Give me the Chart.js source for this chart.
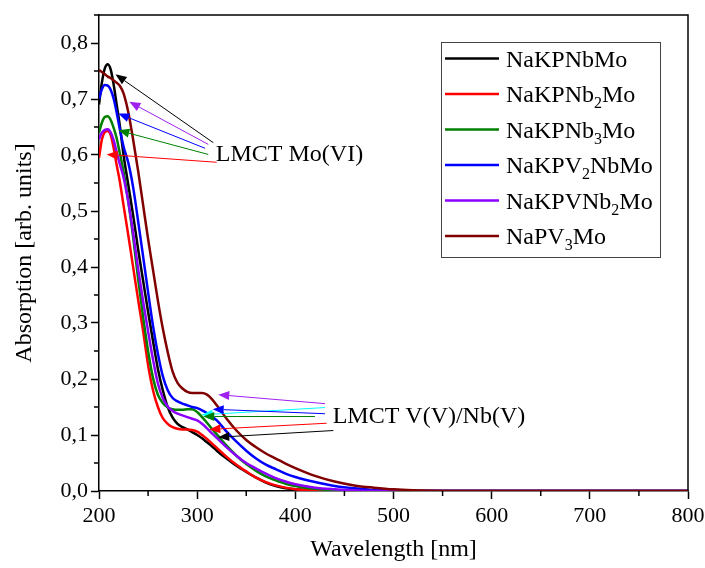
<!DOCTYPE html>
<html>
<head>
<meta charset="utf-8">
<title>UV-Vis absorption spectra</title>
<script src="https://cdn.jsdelivr.net/npm/chart.js@4.4.1/dist/chart.umd.min.js"></script>
<style>
  html, body { margin: 0; padding: 0; background: #fff; }
  canvas { display: block; }
</style>
</head>
<body>
<canvas id="chart" width="705" height="568"></canvas>
<script>
// Wavelength grid (nm) shared by all spectra
const wavelength = [200, 203, 206, 209, 212, 215, 218, 221, 225, 230, 235, 240, 245, 250, 255, 260, 265, 270, 275, 280,
  285, 290, 295, 300, 305, 310, 315, 320, 330, 340, 350, 360, 370, 380, 390, 400, 420, 440, 460, 480,
  500, 550, 600, 700, 800];

// Absorption (arb. units) of each compound
const nakpnbmo = [0.690, 0.730, 0.755, 0.762, 0.752, 0.725, 0.690, 0.655, 0.600, 0.545, 0.490, 0.430, 0.375, 0.320, 0.268, 0.218, 0.180, 0.150, 0.131, 0.120,
  0.114, 0.110, 0.105, 0.100, 0.094, 0.087, 0.080, 0.072, 0.058, 0.045, 0.034, 0.024, 0.015, 0.009, 0.005, 0.003, 0.001, 0, 0, 0,
  0, 0, 0, 0, 0];
const nakpnb2mo = [0.595, 0.628, 0.641, 0.643, 0.635, 0.612, 0.582, 0.555, 0.510, 0.455, 0.397, 0.340, 0.285, 0.225, 0.180, 0.150, 0.130, 0.120, 0.114, 0.111,
  0.110, 0.110, 0.109, 0.106, 0.100, 0.093, 0.085, 0.077, 0.061, 0.047, 0.035, 0.024, 0.016, 0.010, 0.006, 0.003, 0.001, 0, 0, 0,
  0, 0, 0, 0, 0];
const nakpnb3mo = [0.640, 0.658, 0.668, 0.669, 0.662, 0.648, 0.630, 0.605, 0.570, 0.515, 0.450, 0.377, 0.310, 0.250, 0.202, 0.172, 0.157, 0.149, 0.146, 0.145,
  0.145, 0.146, 0.146, 0.141, 0.132, 0.122, 0.111, 0.101, 0.081, 0.063, 0.048, 0.036, 0.026, 0.019, 0.013, 0.009, 0.004, 0.001, 0, 0,
  0, 0, 0, 0, 0];
const nakpv2nbmo = [0.700, 0.718, 0.725, 0.724, 0.716, 0.700, 0.676, 0.648, 0.615, 0.585, 0.540, 0.480, 0.418, 0.355, 0.295, 0.245, 0.205, 0.180, 0.166, 0.160,
  0.156, 0.153, 0.150, 0.148, 0.144, 0.139, 0.133, 0.126, 0.106, 0.088, 0.072, 0.058, 0.047, 0.039, 0.031, 0.025, 0.016, 0.009, 0.005, 0.002,
  0.001, 0, 0, 0, 0];
const nakpvnb2mo = [0.628, 0.640, 0.645, 0.646, 0.640, 0.626, 0.605, 0.585, 0.560, 0.515, 0.458, 0.395, 0.338, 0.285, 0.235, 0.192, 0.166, 0.151, 0.143, 0.138,
  0.135, 0.132, 0.129, 0.126, 0.120, 0.112, 0.103, 0.095, 0.078, 0.063, 0.050, 0.040, 0.031, 0.023, 0.017, 0.012, 0.006, 0.003, 0.001, 0,
  0, 0, 0, 0, 0];
const napv3mo = [0.752, 0.748, 0.744, 0.740, 0.737, 0.733, 0.729, 0.724, 0.710, 0.675, 0.625, 0.570, 0.510, 0.450, 0.395, 0.340, 0.290, 0.248, 0.213, 0.193,
  0.183, 0.177, 0.175, 0.175, 0.175, 0.172, 0.164, 0.153, 0.129, 0.108, 0.091, 0.078, 0.067, 0.058, 0.049, 0.041, 0.027, 0.017, 0.010, 0.006,
  0.003, 0, 0, 0, 0];

// Series names; "_n" marks a subscript digit
const seriesNames = ['NaKPNbMo', 'NaKPNb_2Mo', 'NaKPNb_3Mo', 'NaKPV_2NbMo', 'NaKPVNb_2Mo', 'NaPV_3Mo'];
const seriesValues = [nakpnbmo, nakpnb2mo, nakpnb3mo, nakpv2nbmo, nakpvnb2mo, napv3mo];
const seriesColors = ['#000000', '#ff0000', '#008000', '#0000ff', '#8b00ff', '#800000'];

// Axis ranges and tick steps
const xRange = [200, 800];
const yRange = [0, 0.85];
const xStep = 50;
const yStep = 0.05;

// Band assignment labels and their arrows, in data units (nm, absorption)
const bandLabels = [
  { text: 'LMCT Mo(VI)', x: 319.0, y: 0.589 },
  { text: 'LMCT V(V)/Nb(V)', x: 438.0, y: 0.121 }
];
const bandArrows = [
  // Mo(VI) group: [tail x, tail y, tip x, tip y, colour]
  [316.4, 0.622, 216.8, 0.744, '#000000'],
  [311.3, 0.619, 230.9, 0.695, '#a020f0'],
  [308.0, 0.612, 219.7, 0.674, '#0000ff'],
  [311.3, 0.601, 219.7, 0.644, '#008000'],
  [319.9, 0.587, 207.8, 0.601, '#ff0000'],
  // V(V)/Nb(V) group
  [430.2, 0.156, 321.5, 0.172, '#a020f0'],
  [430.2, 0.149, 304.6, 0.136, '#00ffff'],
  [430.2, 0.138, 315.8, 0.146, '#0000ff'],
  [420.0, 0.133, 306.2, 0.133, '#008000'],
  [431.9, 0.121, 312.4, 0.110, '#ff0000'],
  [438.7, 0.108, 321.5, 0.096, '#000000']
];

const SERIF = "'Liberation Serif', 'Times New Roman', serif";

function plainName(s) { return s.replace(/_/g, ''); }

// Draws a label whose "_n" digits become subscripts; returns the end x
function drawRich(ctx, text, x, y, size) {
  const parts = text.split(/_(\d)/);
  let cx = x;
  parts.forEach((p, i) => {
    if (!p) return;
    const sub = i % 2 === 1;
    ctx.font = (sub ? Math.round(size * 0.66) : size) + 'px ' + SERIF;
    ctx.fillText(p, cx, sub ? y + size * 0.25 : y);
    cx += ctx.measureText(p).width;
  });
  return cx;
}

function drawArrow(ctx, x1, y1, x2, y2, color) {
  const ang = Math.atan2(y2 - y1, x2 - x1);
  const L = 11, W = 4.5;
  const bx = x2 - L * Math.cos(ang), by = y2 - L * Math.sin(ang);
  ctx.strokeStyle = color;
  ctx.fillStyle = color;
  ctx.lineWidth = 1;
  ctx.beginPath();
  ctx.moveTo(x1, y1);
  ctx.lineTo(bx, by);
  ctx.stroke();
  ctx.beginPath();
  ctx.moveTo(x2, y2);
  ctx.lineTo(bx + W * Math.sin(ang), by - W * Math.cos(ang));
  ctx.lineTo(bx - W * Math.sin(ang), by + W * Math.cos(ang));
  ctx.closePath();
  ctx.fill();
}

const isMajorX = v => Math.round(v) % 100 === 0;
const isMajorY = v => Math.round(v * 100) % 10 === 0;

// Frame, minor ticks, band annotations and the legend box
const decorations = {
  id: 'decorations',
  afterDatasetsDraw(chart) {
    const { ctx, scales: { x, y } } = chart;
    ctx.save();
    bandArrows.forEach(([tx, ty, hx, hy, c]) => {
      drawArrow(ctx, x.getPixelForValue(tx), y.getPixelForValue(ty),
        x.getPixelForValue(hx), y.getPixelForValue(hy), c);
    });
    ctx.fillStyle = '#000';
    ctx.textBaseline = 'alphabetic';
    ctx.textAlign = 'left';
    bandLabels.forEach(l => {
      ctx.font = '24px ' + SERIF;
      ctx.fillText(l.text, x.getPixelForValue(l.x), y.getPixelForValue(l.y));
    });
    ctx.restore();
  },
  afterDraw(chart) {
    const { ctx, chartArea: a, scales: { x, y } } = chart;
    ctx.save();
    ctx.strokeStyle = '#000';
    ctx.lineWidth = 1.5;
    // top and right frame lines
    ctx.beginPath();
    ctx.moveTo(a.left, a.top);
    ctx.lineTo(a.right, a.top);
    ctx.lineTo(a.right, a.bottom);
    ctx.stroke();
    // minor ticks
    ctx.beginPath();
    for (let v = xRange[0] + xStep; v < xRange[1]; v += xStep) {
      if (isMajorX(v)) continue;
      const px = x.getPixelForValue(v);
      ctx.moveTo(px, a.bottom);
      ctx.lineTo(px, a.bottom + 5);
    }
    for (let k = 1; k * yStep <= yRange[1] + 1e-9; k++) {
      const v = k * yStep;
      if (isMajorY(v)) continue;
      const py = y.getPixelForValue(v);
      ctx.moveTo(a.left - 5, py);
      ctx.lineTo(a.left, py);
    }
    ctx.stroke();

    // legend
    const bx = a.right - 247, by = a.top + 27, bw = 219, bh = 215;
    ctx.fillStyle = '#fff';
    ctx.fillRect(bx, by, bw, bh);
    ctx.strokeStyle = '#444';
    ctx.lineWidth = 1;
    ctx.strokeRect(bx + 0.5, by + 0.5, bw, bh);
    seriesNames.forEach((name, i) => {
      const cy = by + 16.5 + i * 35.5;
      ctx.strokeStyle = seriesColors[i];
      ctx.lineWidth = 2.5;
      ctx.beginPath();
      ctx.moveTo(bx + 4, cy);
      ctx.lineTo(bx + 58, cy);
      ctx.stroke();
      ctx.fillStyle = '#000';
      ctx.textBaseline = 'alphabetic';
      ctx.textAlign = 'left';
      drawRich(ctx, name, bx + 65, cy + 8, 24);
    });
    ctx.restore();
  }
};

const datasets = seriesNames.map((name, i) => ({
  label: plainName(name),
  data: wavelength.map((w, j) => ({ x: w, y: seriesValues[i][j] })),
  borderColor: seriesColors[i],
  backgroundColor: seriesColors[i],
  borderWidth: 2.5,
  pointRadius: 0,
  fill: false,
  cubicInterpolationMode: 'monotone',
  order: seriesNames.length - i
}));

new Chart(document.getElementById('chart'), {
  type: 'line',
  data: { datasets },
  options: {
    responsive: false,
    animation: false,
    layout: { padding: { top: 15, right: 17, left: 0, bottom: 0 } },
    plugins: { legend: { display: false }, tooltip: { enabled: false } },
    scales: {
      x: {
        type: 'linear',
        min: xRange[0],
        max: xRange[1],
        afterFit: s => { s.height = 77; s.paddingLeft = 0; s.paddingRight = 0; },
        border: { display: true, color: '#000', width: 1.5 },
        grid: {
          drawOnChartArea: false,
          drawTicks: true,
          tickLength: 8,
          tickWidth: 1.5,
          tickColor: c => (c.tick && isMajorX(c.tick.value)) ? '#000' : 'rgba(0,0,0,0)'
        },
        ticks: {
          stepSize: xStep,
          autoSkip: false,
          maxRotation: 0,
          padding: 4,
          color: '#000',
          font: { family: SERIF, size: 22 },
          callback: v => isMajorX(v) ? String(Math.round(v)) : ''
        },
        title: {
          display: true,
          text: 'Wavelength [nm]',
          color: '#000',
          font: { family: SERIF, size: 24 },
          padding: { top: 0, bottom: 4 }
        }
      },
      y: {
        type: 'linear',
        min: yRange[0],
        max: yRange[1],
        afterFit: s => { s.width = 99; s.paddingTop = 0; s.paddingBottom = 0; },
        border: { display: true, color: '#000', width: 1.5 },
        grid: {
          drawOnChartArea: false,
          drawTicks: true,
          tickLength: 8,
          tickWidth: 1.5,
          tickColor: c => (c.tick && isMajorY(c.tick.value)) ? '#000' : 'rgba(0,0,0,0)'
        },
        ticks: {
          stepSize: yStep,
          autoSkip: false,
          padding: 3,
          color: '#000',
          font: { family: SERIF, size: 22 },
          callback: v => isMajorY(v) ? (Math.round(v * 10) / 10).toFixed(1).replace('.', ',') : ''
        },
        title: {
          display: true,
          text: 'Absorption [arb. units]',
          color: '#000',
          font: { family: SERIF, size: 24 },
          padding: { top: 10, bottom: 0 }
        }
      }
    }
  },
  plugins: [decorations]
});
</script>
</body>
</html>
